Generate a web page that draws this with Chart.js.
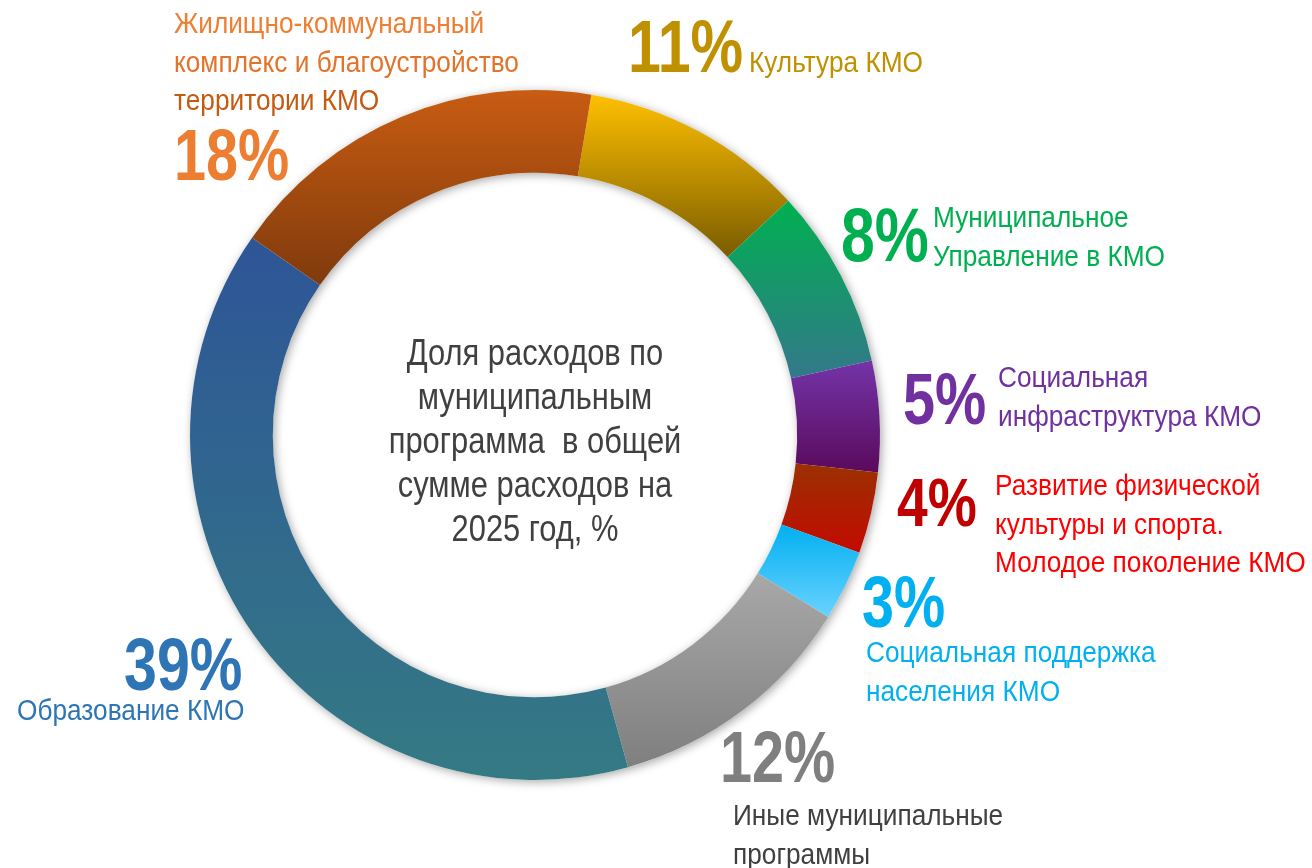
<!DOCTYPE html>
<html>
<head>
<meta charset="utf-8">
<script src="https://cdn.jsdelivr.net/npm/chart.js@4.4.1/dist/chart.umd.min.js"></script>
<style>
  html, body { margin: 0; padding: 0; background: #fff; }
  #wrap { width: 1312px; height: 868px; }
</style>
</head>
<body>
<div id="wrap"><canvas id="shareChart" width="1312" height="868"></canvas></div>
<script>
// categories clockwise, starting from the top (Культура)
const categories = [
  'Культура КМО',
  'Муниципальное Управление в КМО',
  'Социальная инфраструктура КМО',
  'Развитие физической культуры и спорта. Молодое поколение КМО',
  'Социальная поддержка населения КМО',
  'Иные муниципальные программы',
  'Образование КМО',
  'Жилищно-коммунальный комплекс и благоустройство территории КМО'
];
// share of spending, % (labels show rounded values)
const shares = [10.5, 8.4, 5.2, 3.8, 3.3, 11.8, 39.0, 17.9];

const labelLines = [
  ['Культура КМО'],
  ['Муниципальное', 'Управление в КМО'],
  ['Социальная', 'инфраструктура КМО'],
  ['Развитие физической', 'культуры и спорта.', 'Молодое поколение КМО'],
  ['Социальная поддержка', 'населения КМО'],
  ['Иные муниципальные', 'программы'],
  ['Образование КМО'],
  ['Жилищно-коммунальный', 'комплекс и благоустройство', 'территории КМО']
];
const centerLines = ['Доля расходов по', 'муниципальным', 'программа  в общей', 'сумме расходов на', '2025 год, %'];

// styles
const gradTop    = ['#FFC000', '#00B050', '#7434A8', '#9A3100', '#00B0F0', '#A8A8A8', '#2E5597', '#C85C12'];
const gradBottom = ['#7A5C00', '#33788A', '#5A0A5C', '#C40A00', '#6AD2FF', '#7F7F7F', '#347A84', '#7F3A0C'];
const pctColors  = ['#BF9000', '#00B050', '#7030A0', '#C00000', '#00B0F0', '#7F7F7F', '#2E75B6', '#ED7D31'];
const textColors = [
  ['#BF9000'],
  ['#00B050', '#00B050'],
  ['#7030A0', '#7030A0'],
  ['#FF0000', '#FF0000', '#FF0000'],
  ['#00B0F0', '#00B0F0'],
  ['#404040', '#404040'],
  ['#2E75B6'],
  ['#EE7E32', '#E4732A', '#C55A11']
];
const pctSizes = [74, 76, 72, 69, 72, 72, 74, 72];
// label anchors, offsets from the doughnut centre: [pct x, pct baseline, text x, first text baseline]
const labelPos = [
  [93, -363, 214, -363],
  [306, -174, 398, -208],
  [368, -11, 463, -48],
  [362, 91, 460, 60],
  [327, 192, 331, 227],
  [185, 347, 198, 390],
  [-411, 255, -518, 285],
  [-361, -255, -361, -402]
];
const LINE_H = 38.5;
const TEXT_SIZE = 29;
const ROTATION = 9.4;
const CUTOUT = 76;
const FONT = '"Liberation Sans", Arial, sans-serif';

function segmentBox(chart, index) {
  const area = chart.chartArea;
  const cy = (area.top + area.bottom) / 2;
  const outer = Math.min(area.width, area.height) / 2;
  const inner = outer * CUTOUT / 100;
  const total = shares.reduce((a, b) => a + b, 0);
  let start = (ROTATION - 90) * Math.PI / 180;
  for (let i = 0; i < index; i++) start += shares[i] / total * Math.PI * 2;
  const end = start + shares[index] / total * Math.PI * 2;
  let ymin = Infinity, ymax = -Infinity;
  for (let k = 0; k <= 60; k++) {
    const a = start + (end - start) * k / 60;
    for (const r of [inner, outer]) {
      const y = cy + r * Math.sin(a);
      ymin = Math.min(ymin, y);
      ymax = Math.max(ymax, y);
    }
  }
  return { ymin, ymax };
}

function drawText(c, text, x, y, size, weight, color, squeeze, align) {
  c.save();
  c.translate(x, y);
  c.scale(squeeze, 1);
  c.font = `${weight} ${size}px ${FONT}`;
  c.fillStyle = color;
  c.textBaseline = 'alphabetic';
  c.textAlign = align || 'left';
  c.fillText(text, 0, 0);
  c.restore();
}

const ringShadow = {
  id: 'ringShadow',
  beforeDatasetsDraw(chart) {
    const arc = chart.getDatasetMeta(0).data[0];
    if (!arc) return;
    const c = chart.ctx;
    c.save();
    c.shadowColor = 'rgba(0,0,0,0.35)';
    c.shadowBlur = 10;
    c.shadowOffsetX = 2;
    c.shadowOffsetY = 2;
    c.fillStyle = '#fff';
    c.beginPath();
    c.arc(arc.x, arc.y, arc.outerRadius, 0, Math.PI * 2);
    c.arc(arc.x, arc.y, arc.innerRadius, 0, Math.PI * 2, true);
    c.fill();
    c.restore();
  }
};

const outsideLabels = {
  id: 'outsideLabels',
  afterDraw(chart) {
    const arc = chart.getDatasetMeta(0).data[0];
    if (!arc) return;
    const c = chart.ctx;
    const cx = arc.x, cy = arc.y;
    shares.forEach((v, i) => {
      const p = labelPos[i];
      drawText(c, Math.round(v) + '%', cx + p[0], cy + p[1], pctSizes[i], 'bold', pctColors[i], 0.8);
      labelLines[i].forEach((line, j) => {
        drawText(c, line, cx + p[2], cy + p[3] + j * LINE_H, TEXT_SIZE, 'normal', textColors[i][j], 0.905);
      });
    });
    centerLines.forEach((line, j) => {
      drawText(c, line, cx, cy - 70 + j * 44, 36, 'normal', '#404040', 0.857, 'center');
    });
  }
};

new Chart(document.getElementById('shareChart').getContext('2d'), {
  type: 'doughnut',
  data: {
    labels: categories,
    datasets: [{
      data: shares,
      borderWidth: 0,
      backgroundColor: (c) => {
        const chart = c.chart;
        const i = c.dataIndex;
        if (!chart.chartArea || c.type !== 'data') return gradTop[i];
        const { ymin, ymax } = segmentBox(chart, i);
        const g = chart.ctx.createLinearGradient(0, ymin, 0, ymax);
        g.addColorStop(0, gradTop[i]);
        g.addColorStop(1, gradBottom[i]);
        return g;
      }
    }]
  },
  options: {
    responsive: false,
    animation: false,
    rotation: ROTATION,
    cutout: CUTOUT + '%',
    layout: { padding: { left: 190, top: 90, right: 432, bottom: 88 } },
    plugins: {
      legend: { display: false },
      tooltip: { enabled: false }
    },
    events: []
  },
  plugins: [ringShadow, outsideLabels]
});
</script>
</body>
</html>
